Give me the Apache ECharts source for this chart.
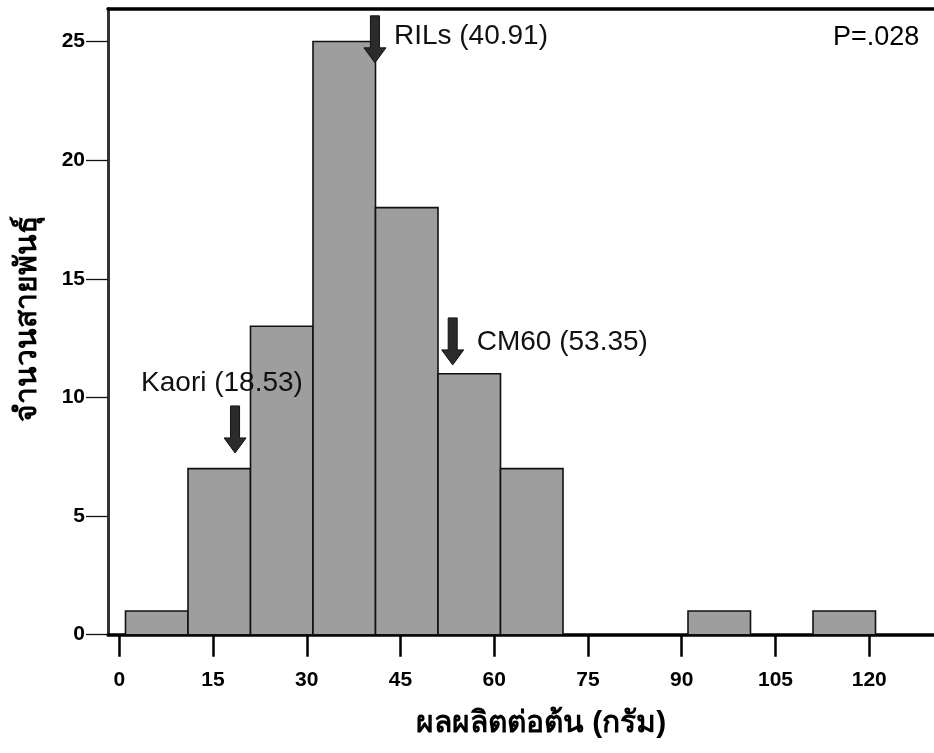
<!DOCTYPE html>
<html>
<head>
<meta charset="utf-8">
<script src="https://cdn.jsdelivr.net/npm/echarts@6/dist/echarts.min.js"></script>
<style>
  html, body { margin: 0; padding: 0; background: #fff; }
  #chart { width: 934px; height: 753px; }
</style>
</head>
<body>
<div id="chart"></div>
<script>
// Histogram of yield per plant (g) for the RIL population
const binEdges = [1, 11, 21, 31, 41, 51, 61, 71, 81, 91, 101, 111, 121];
const binCounts = [1, 7, 13, 25, 18, 11, 7, 0, 0, 1, 0, 1];

// Axis tick values
const xTicks = [0, 15, 30, 45, 60, 75, 90, 105, 120];
const yTicks = [0, 5, 10, 15, 20, 25];

// Marked means: name, mean value
const markNames = ['RILs', 'Kaori', 'CM60'];
const markValues = [40.91, 18.53, 53.35];
// Height (count units) where each arrow tip sits
const markTipY = [24.1, 7.66, 11.37];
// Label offset from the arrow tip, in pixels
const markLabelDx = [19, -94, 24];
const markLabelDy = [-27, -70, -23];

const pValueText = 'P=.028';

const histData = binCounts.map((c, i) => [binEdges[i], binEdges[i + 1], c]);
const markData = markValues.map((v, i) => [v, markTipY[i], i]);

const chart = echarts.init(document.getElementById('chart'), null, { renderer: 'canvas' });

const tickFont = { fontFamily: 'Liberation Sans, Arial, sans-serif', fontWeight: 'bold', fontSize: 21, color: '#000' };
const noteFont = 'Liberation Sans, Arial, sans-serif';

chart.setOption({
  animation: false,
  backgroundColor: '#fff',
  grid: { left: 108, right: 0, top: 8.5, bottom: 753 - 634.7 },
  xAxis: [
    {
      type: 'value', min: -1.8, max: 130.36, position: 'bottom',
      axisLine: { show: true, onZero: false, lineStyle: { color: '#000', width: 3.5 } },
      axisTick: { show: true, inside: false, length: 22, customValues: xTicks, lineStyle: { color: '#000', width: 2.5 } },
      axisLabel: { show: true, margin: 35, customValues: xTicks, ...tickFont },
      splitLine: { show: false }
    },
    {
      type: 'value', min: -1.8, max: 130.36, position: 'top',
      axisLine: { show: true, onZero: false, lineStyle: { color: '#000', width: 3.5 } },
      axisTick: { show: false }, axisLabel: { show: false }, splitLine: { show: false }
    }
  ],
  yAxis: {
    type: 'value', min: 0, max: 26.39,
    axisLine: { show: true, onZero: false, lineStyle: { color: '#333', width: 3 } },
    axisTick: { show: true, inside: false, length: 22, customValues: yTicks, lineStyle: { color: '#111', width: 1.3 } },
    axisLabel: { show: true, margin: 23, customValues: yTicks, ...tickFont },
    splitLine: { show: false }
  },
  graphic: [
    {
      type: 'text', left: 833, top: 24,
      style: { text: pValueText, font: '27px ' + noteFont, fill: '#000' }
    },
    {
      type: 'text', x: 28, y: 319, rotation: Math.PI / 2,
      style: { text: 'จำนวนสายพันธุ์', font: 'bold 30px sans-serif', fill: '#000', align: 'center', verticalAlign: 'middle' }
    },
    {
      type: 'text', x: 541, y: 724,
      style: { text: 'ผลผลิตต่อต้น (กรัม)', font: 'bold 30px sans-serif', fill: '#000', align: 'center', verticalAlign: 'middle' }
    }
  ],
  series: [
    {
      type: 'custom',
      name: 'bins',
      data: histData,
      renderItem: function (params, api) {
        const count = api.value(2);
        if (!count) return null;
        const base = api.coord([api.value(0), 0]);
        const top = api.coord([api.value(1), count]);
        return {
          type: 'rect',
          shape: { x: base[0], y: top[1], width: top[0] - base[0], height: base[1] - top[1] },
          style: { fill: '#9e9e9e', stroke: '#111', lineWidth: 1.6 }
        };
      },
      z: 2
    },
    {
      type: 'custom',
      name: 'means',
      data: markData,
      renderItem: function (params, api) {
        const idx = api.value(2);
        const tip = api.coord([api.value(0), api.value(1)]);
        const x = tip[0], y = tip[1];
        const shaftW = 9, headW = 22, headL = 15, totalL = 47;
        const pts = [
          [x - shaftW / 2, y - totalL],
          [x + shaftW / 2, y - totalL],
          [x + shaftW / 2, y - headL],
          [x + headW / 2, y - headL],
          [x, y],
          [x - headW / 2, y - headL],
          [x - shaftW / 2, y - headL]
        ];
        return {
          type: 'group',
          children: [
            { type: 'polygon', shape: { points: pts }, style: { fill: '#2b2b2b', stroke: '#111', lineWidth: 1 } },
            {
              type: 'text', x: x + markLabelDx[idx], y: y + markLabelDy[idx],
              style: {
                text: markNames[idx] + ' (' + markValues[idx].toFixed(2) + ')',
                font: '28px ' + noteFont, fill: '#111', align: 'left', verticalAlign: 'middle'
              }
            }
          ]
        };
      },
      z: 5
    }
  ]
});
</script>
</body>
</html>
